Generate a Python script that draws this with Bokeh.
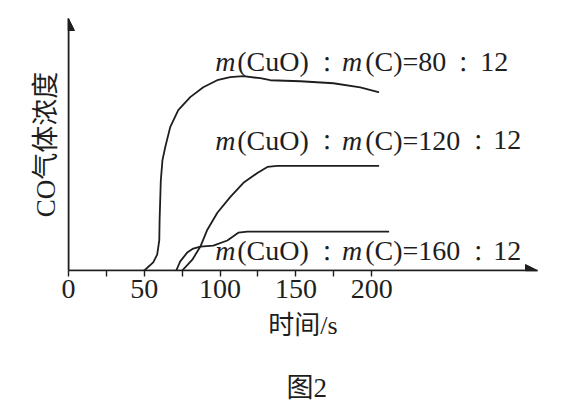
from bokeh.plotting import figure
from bokeh.layouts import column
from bokeh.models import Range1d, FixedTicker, Label, Arrow, NormalHead
from bokeh.embed import file_html
from bokeh.resources import INLINE

# ---- data (time in s, CO concentration in arbitrary units) ----
t_80 = [50, 55.9, 58.5, 59.9, 60.1, 60.5, 60.9, 62.0, 63.8, 67.1, 72.4, 80.3, 88.9, 98.1,
        106.7, 115.3, 126.5, 133.1, 152.9, 174.7, 192.5, 204.4]
c_80 = [0, 0.32, 0.63, 1.21, 2.00, 2.79, 3.58, 4.38, 4.89, 5.69, 6.36, 6.88, 7.27, 7.55,
        7.67, 7.71, 7.63, 7.55, 7.51, 7.43, 7.27, 7.08]
t_120 = [75.0, 81.7, 87.0, 91.6, 98.2, 106.8, 115.4, 124.6, 131.2, 137.8, 204.4]
c_120 = [0, 0.43, 0.95, 1.62, 2.29, 2.92, 3.48, 3.87, 4.11, 4.15, 4.15]
t_160 = [71.1, 73.7, 78.3, 82.3, 87.0, 95.5, 104.8, 112.0, 118.0, 211.0]
c_160 = [0, 0.36, 0.71, 0.87, 0.95, 0.99, 1.19, 1.50, 1.54, 1.54]

ratios = ["80", "120", "160"]
x_ticks = [0, 50, 100, 150, 200]
x_minor = [25, 75, 125, 175]
x_max = 309.4
y_max = 10

SERIF = "Liberation Serif, Noto Sans CJK SC"
INK = "#1e1e1e"

p = figure(width=563, height=360, x_range=Range1d(0, x_max), y_range=Range1d(0, y_max),
           output_backend="svg", toolbar_location=None,
           min_border_left=68, min_border_right=26, min_border_top=18, min_border_bottom=90)
p.outline_line_color = None
p.grid.visible = False
p.background_fill_color = "white"
p.border_fill_color = "white"

# x axis
xa = p.xaxis[0]
xa.ticker = FixedTicker(ticks=x_ticks, minor_ticks=x_minor)
xa.major_tick_out = 6
xa.major_tick_in = 0
xa.minor_tick_out = 6
xa.minor_tick_in = 0
xa.axis_line_width = 1.6
xa.axis_line_color = INK
xa.major_tick_line_color = INK
xa.minor_tick_line_color = INK
xa.major_tick_line_width = 1.4
xa.minor_tick_line_width = 1.4
xa.major_label_text_font = SERIF
xa.major_label_text_font_size = "28px"
xa.major_label_text_color = INK
xa.major_label_standoff = 3
xa.axis_label = "时间/s"
xa.axis_label_text_font = SERIF
xa.axis_label_text_font_size = "26px"
xa.axis_label_text_font_style = "normal"
xa.axis_label_text_color = INK
xa.axis_label_standoff = 10

# y axis
ya = p.yaxis[0]
ya.ticker = FixedTicker(ticks=[])
ya.major_tick_out = 0
ya.major_tick_in = 0
ya.minor_tick_out = 0
ya.minor_tick_in = 0
ya.axis_line_width = 1.6
ya.axis_line_color = INK
ya.axis_label = "CO气体浓度"
ya.axis_label_text_font = SERIF
ya.axis_label_text_font_size = "27px"
ya.axis_label_text_font_style = "normal"
ya.axis_label_text_color = INK
ya.axis_label_standoff = 8

# axis arrows
for xs, ys, xe, ye in [(0, 0, x_max, 0), (0, 0, 0, y_max)]:
    p.add_layout(Arrow(end=NormalHead(size=12, fill_color=INK, line_color=INK, line_width=1),
                       x_start=xs, y_start=ys, x_end=xe, y_end=ye,
                       line_color=INK, line_width=1.6))

# curves
for t, c in [(t_80, c_80), (t_120, c_120), (t_160, c_160)]:
    p.line(t, c, line_color=INK, line_width=1.8, line_join="round", line_cap="round")

# curve labels:  m(CuO)：m(C)=xx：12
label_x = 96.8
label_y = [7.92, 4.81, 0.42]
for ratio, ly in zip(ratios, label_y):
    wide = len(ratio) == 3
    pieces = [
        ("m", 0, "italic", "left", SERIF, "28px"),
        ("(CuO)", 22, "normal", "left", SERIF, "28px"),
        ("：", 111.7, "normal", "center", "Noto Sans CJK JP", "22px"),
        ("m", 126.7, "italic", "left", SERIF, "28px"),
        ("(C)=" + ratio, 150, "normal", "left", SERIF, "28px"),
        ("：", 263 if wide else 248, "normal", "center", "Noto Sans CJK JP", "22px"),
        ("12", 278 if wide else 265, "normal", "left", SERIF, "28px"),
    ]
    for txt, off, style, align, font, size in pieces:
        p.add_layout(Label(x=label_x, y=ly, x_offset=off, y_offset=9, text=txt,
                           text_font=font, text_font_size=size, text_font_style=style,
                           text_align=align, text_baseline="alphabetic", text_color=INK))

# figure caption in a small strip below the chart
cap = figure(width=563, height=54, x_range=Range1d(0, 563), y_range=Range1d(0, 54),
             output_backend="svg", toolbar_location=None,
             min_border_left=0, min_border_right=0, min_border_top=0, min_border_bottom=0)
cap.axis.visible = False
cap.grid.visible = False
cap.outline_line_color = None
cap.add_layout(Label(x=286, y=27, text="图2", text_font=SERIF, text_font_size="27px",
                     text_align="center", text_baseline="middle", text_color=INK))

open("out.html", "w").write(file_html(column(p, cap, spacing=0), INLINE))
